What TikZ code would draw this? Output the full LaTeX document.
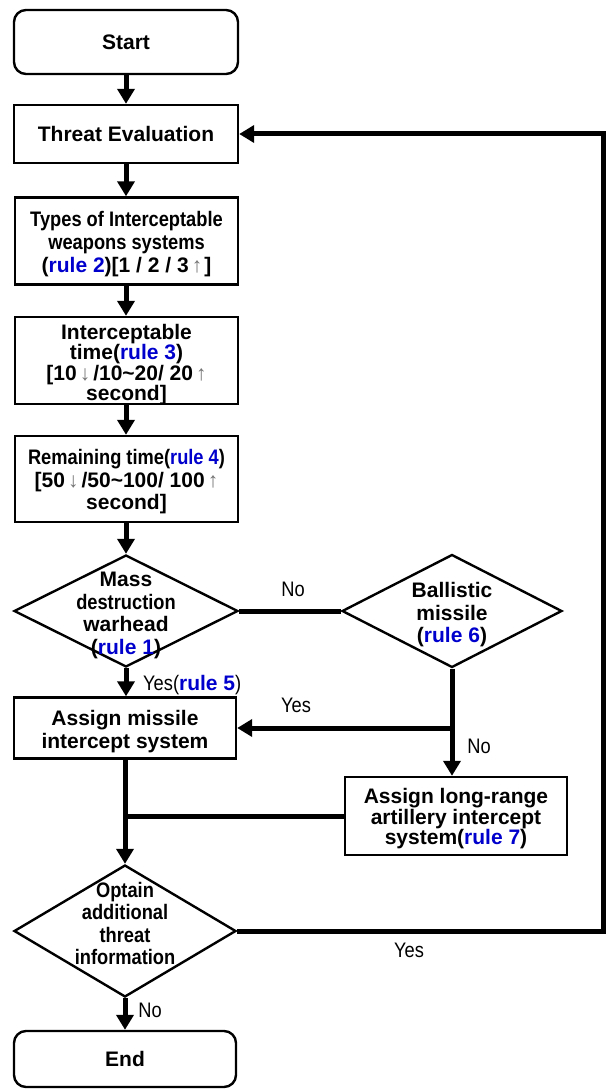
\documentclass[tikz,border=0pt]{standalone}
\usepackage{fontspec}
\setmainfont{Liberation Sans}
\newfontfamily\narrowfont{Liberation Sans}[FakeStretch=0.87]
\usetikzlibrary{arrows.meta,shapes.geometric}
\definecolor{ruleblue}{RGB}{0,0,205}
\newcommand\rl[1]{\textcolor{ruleblue}{#1}}
\newcommand\nl[1]{{\narrowfont\bfseries #1}}
\newcommand\upar{\hspace{3pt}\textcolor{black!55}{\mdseries ↑}\hspace{2pt}}
\newcommand\dnar{\hspace{3pt}\textcolor{black!55}{\mdseries ↓}\hspace{3pt}}
\tikzset{
  boxbase/.style={draw, line width=2.4pt, inner sep=0pt, align=center,
    font=\fontsize{21}{22.5}\selectfont\bfseries},
  procbox/.style={boxbase, rectangle},
  termbox/.style={boxbase, rectangle, rounded corners=12pt},
  decision/.style={draw, diamond, line width=2.4pt, inner sep=0pt},
  dtext/.style={align=center, inner sep=0pt, font=\fontsize{21}{22.5}\selectfont\bfseries},
  conn/.style={line width=5pt, -{Triangle[length=15pt,width=17pt]}},
  plainline/.style={line width=5pt},
  lbl/.style={inner sep=0pt, font=\fontsize{21}{22}\selectfont\narrowfont}
}
\begin{document}
\begin{tikzpicture}[x=1pt,y=-1pt]
\useasboundingbox (0,0) rectangle (606,1089);
\node[termbox, minimum width=224, minimum height=64] (start) at (126,42) {Start};
\node[procbox, minimum width=224, minimum height=58] (threat) at (126,134) {Threat Evaluation};
\node[procbox, minimum width=223, minimum height=87] (types) at (126.5,241) {};
\node[dtext, font=\fontsize{21}{23}\selectfont\bfseries] (typest) at (126.5,244)
  {\nl{Types of Interceptable}\\\nl{weapons systems}\\(\rl{rule 2})[1 / 2 / 3\upar]};
\node[procbox, minimum width=223, minimum height=87] (interc) at (126.5,360.5) {};
\node[dtext, font=\fontsize{21}{20.5}\selectfont\bfseries] (interct) at (126.5,364.5)
  {Interceptable\\time(\rl{rule 3})\\{[}10\dnar/10\textasciitilde 20/ 20\upar\\second]};
\node[procbox, minimum width=223, minimum height=86] (remain) at (126.5,479) {};
\node[dtext] (remaint) at (126.5,482)
  {\nl{Remaining time(\rl{rule 4})}\\{[}50\dnar/50\textasciitilde 100/ 100\upar\\second]};
\node[decision, minimum width=224, minimum height=112] (md) at (126,611) {};
\node[dtext] (mdt) at (126,615.5) {Mass\\\nl{destruction}\\warhead\\(\rl{rule 1})};
\node[decision, minimum width=220, minimum height=113] (bm) at (452,611) {};
\node[dtext] (bmt) at (452,615) {Ballistic\\missile\\(\rl{rule 6})};
\node[procbox, minimum width=222, minimum height=61] (am) at (125,728) {};
\node[dtext] (amt) at (125,731.5) {Assign missile\\intercept system};
\node[procbox, minimum width=222, minimum height=78] (lr) at (456,816) {};
\node[dtext, font=\fontsize{21}{20.5}\selectfont\bfseries] (lrt) at (456,819)
  {Assign long-range\\artillery intercept\\system(\rl{rule 7})};
\node[decision, minimum width=222, minimum height=132] (od) at (125,931) {};
\node[dtext] (odt) at (125,923.5) {\nl{Optain}\\\nl{additional}\\\nl{threat}\\\nl{information}};
\node[termbox, minimum width=222, minimum height=56] (end) at (125,1059) {End};
% connectors
\draw[conn] (start.south) -- (start.south |- threat.north);
\draw[conn] (threat.south) -- (threat.south |- types.north);
\draw[conn] (types.south -| threat.south) -- (threat.south |- interc.north);
\draw[conn] (interc.south -| threat.south) -- (threat.south |- remain.north);
\draw[conn] (remain.south -| md.north) -- (md.north);
\draw[plainline] (md.east) -- (bm.west);
\node[lbl] (lno1) at (293,589) {No};
\draw[conn] (md.south) -- (md.south |- am.north);
\node[lbl, anchor=west] (lyes5) at (143,685) {Yes(\rl{\normalfont\bfseries rule 5})};
\draw[conn] (bm.south) -- (bm.south |- lr.north);
\coordinate (br) at (bm.south |- am.east);
\draw[conn] (br) -- (am.east);
\node[lbl] (lyes1) at (296,705) {Yes};
\node[lbl] (lno2) at (479,746) {No};
\draw[conn] (am.south) -- (am.south |- od.north);
\draw[plainline] (lr.west) -- (lr.west -| am.south);
\coordinate (rc) at (603,931);
\draw[conn] (od.east) -- (rc) |- (threat.east);
\node[lbl] (lyes2) at (409,950) {Yes};
\draw[conn] (od.south) -- (od.south |- end.north);
\node[lbl] (lno3) at (150,1010) {No};
\end{tikzpicture}
\end{document}
